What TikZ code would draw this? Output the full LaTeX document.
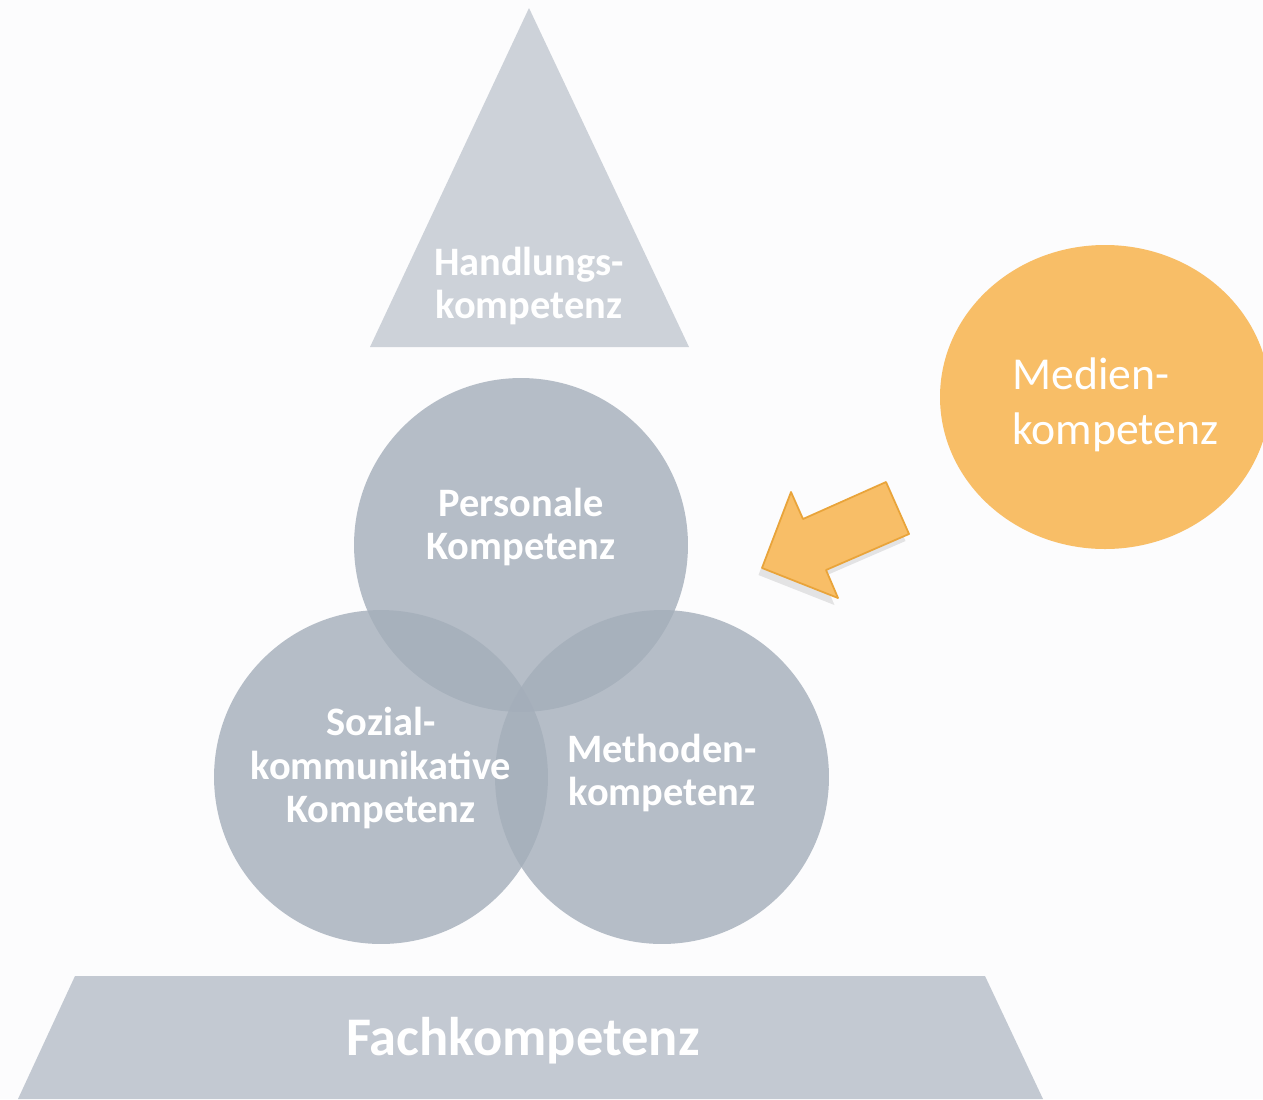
\documentclass[tikz,border=0pt]{standalone}
\usepackage{fontspec}
\setmainfont{Carlito}
\usetikzlibrary{shadows}

\definecolor{hintergrund}{HTML}{FCFCFD}
\definecolor{dreieckgrau}{HTML}{CDD2D9}
\definecolor{sockelgrau}{HTML}{C3C9D2}
\definecolor{kreisgrau}{HTML}{A4AEBA}
\definecolor{medienorange}{HTML}{F8BE67}
\definecolor{pfeilrand}{HTML}{E9A43A}

\tikzset{
  kreis/.style={circle, fill=kreisgrau, fill opacity=0.8, minimum size=6.68cm, inner sep=0pt},
  grautext/.style={text=white, align=center, font=\fontsize{23}{25}\selectfont\bfseries},
  pfeil/.style={fill=medienorange, draw=pfeilrand, line width=1pt, line join=round,
    drop shadow={shadow xshift=-2pt, shadow yshift=-4pt, opacity=0.2}},
}

\begin{document}
\begin{tikzpicture}[x=0.02cm, y=-0.02cm]
  \clip (0,0) rectangle (1263,1099);
  \fill[hintergrund] (0,0) rectangle (1263,1099);

  % Dreieck oben
  \fill[dreieckgrau] (529,8) -- (689,347) -- (370,347) -- cycle;
  \node[grautext] (handlung) at (529,286) {Handlungs-\\kompetenz};

  % Sockel
  \fill[sockelgrau] (75,976) -- (985,976) -- (1043,1099) -- (18,1099) -- cycle;
  \node[grautext, font=\fontsize{31}{34}\selectfont\bfseries] (fach) at (523,1041) {Fachkompetenz};

  % drei Kreise
  \node[kreis] (personal) at (521,545) {};
  \node[kreis] (sozial) at (381,777) {};
  \node[kreis] (methode) at (662,777) {};

  \node[grautext, yshift=0.36cm] (personaltext) at (personal.center) {Personale\\Kompetenz};
  \node[grautext, yshift=0.18cm] (sozialtext) at (sozial.center) {Sozial-\\kommunikative\\Kompetenz};
  \node[grautext, yshift=0.08cm] (methodetext) at (methode.center) {Methoden-\\kompetenz};

  % Medienkompetenz
  \fill[medienorange] (1105,397) ellipse[x radius=165, y radius=152];
  \node[text=white, anchor=west, align=left, font=\fontsize{26}{31}\selectfont] (medien) at (1006,405) {Medien-\\kompetenz};

  % Pfeil
  \draw[pfeil] (762,568) -- (791,492) -- (803,519) -- (886,482) -- (909,534) -- (826,570) -- (838,598) -- cycle;
\end{tikzpicture}
\end{document}
